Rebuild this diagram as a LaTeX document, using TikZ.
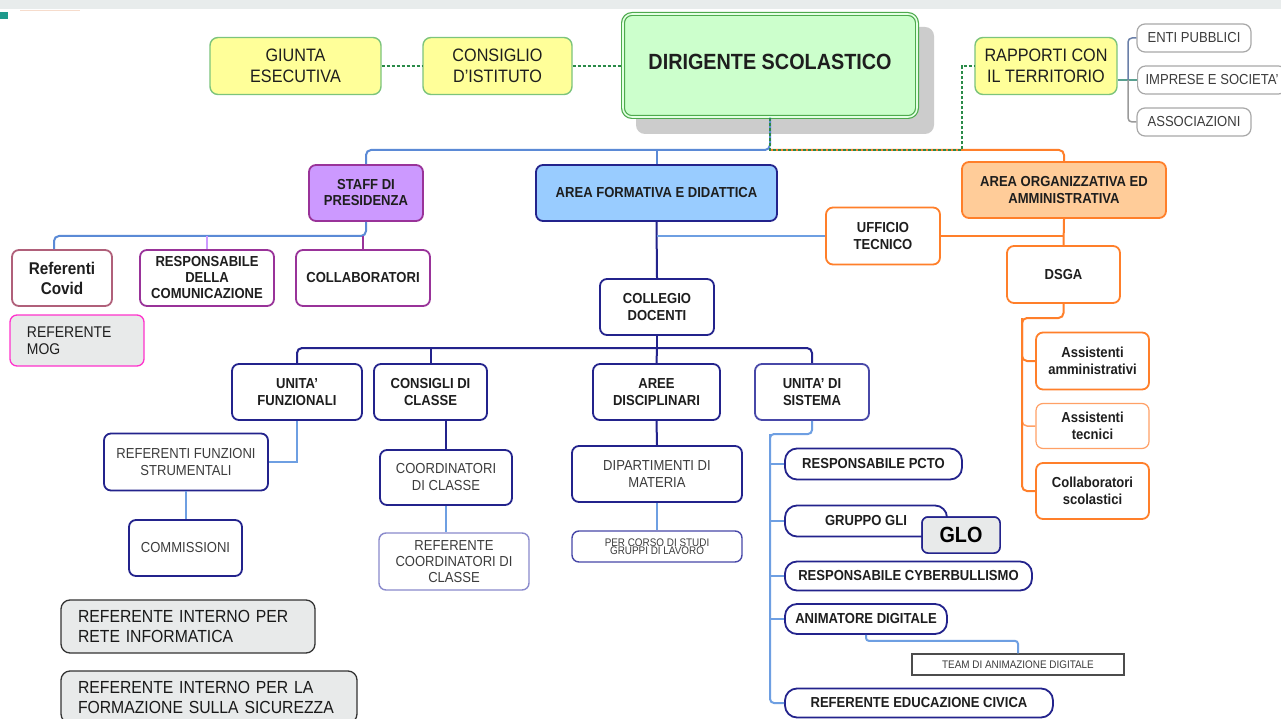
\documentclass[tikz,border=0pt]{standalone}
\usepackage{fontspec}
\setmainfont{Liberation Sans}[FakeStretch=0.9]
\definecolor{topgray}{HTML}{E8ECEC}
\definecolor{teal1}{HTML}{1E9A8C}
\definecolor{peach}{HTML}{F6DCCC}
\definecolor{yfill}{HTML}{FFFF99}
\definecolor{ydraw}{HTML}{7CC47C}
\definecolor{dfill}{HTML}{CCFFCC}
\definecolor{dfill2}{HTML}{E4FFE4}
\definecolor{ddraw}{HTML}{4DAA4D}
\definecolor{shadowc}{HTML}{CCCCCC}
\definecolor{dgreen}{HTML}{2A8A48}
\definecolor{mynavy}{HTML}{23238C}
\definecolor{navyl}{HTML}{4848A8}
\definecolor{navyp}{HTML}{8A8ACC}
\definecolor{cb}{HTML}{5B8AD6}
\definecolor{cl}{HTML}{6E9FE2}
\definecolor{orng}{HTML}{FF7F2A}
\definecolor{orngl}{HTML}{FFA066}
\definecolor{ofill}{HTML}{FFCC99}
\definecolor{bfill}{HTML}{99CCFF}
\definecolor{pfill}{HTML}{CC99FF}
\definecolor{pdraw}{HTML}{993399}
\definecolor{plight}{HTML}{CC99FF}
\definecolor{covidc}{HTML}{B0607A}
\definecolor{magc}{HTML}{FF33CC}
\definecolor{lgray}{HTML}{E8EAEA}
\definecolor{gborder}{HTML}{A8A8A8}
\definecolor{txtb}{HTML}{1E1E1E}
\definecolor{txtr}{HTML}{3C3C3C}
\definecolor{rgblue}{HTML}{6A7FA8}
\definecolor{rgteal}{HTML}{5AA090}
\definecolor{rggray}{HTML}{9A9A9A}
\begin{document}
\begin{tikzpicture}[x=1pt,y=-1pt,
  sz/.style 2 args={minimum width=#1pt, minimum height=#2pt},
  box/.style={draw, rounded corners=7pt, line width=1.8pt, inner sep=0pt, align=center, fill=white, text=txtb},
  bf/.style={font=\bfseries\fontsize{14.5}{17}\selectfont, text=txtb},
  rf/.style={font=\fontsize{14.5}{17}\selectfont, text=txtr},
  navyb/.style={box, draw=mynavy, bf},
  navyr/.style={box, draw=mynavy, rf},
  pill/.style={box, draw=mynavy, bf, rounded corners=12pt},
  orb/.style={box, draw=orng, bf},
  yel/.style={box, fill=yfill, draw=ydraw, line width=1.4pt, rounded corners=8pt, font=\fontsize{18}{21}\selectfont, text=txtb},
  grayb/.style={box, draw=gborder, line width=1.2pt, rounded corners=8pt, font=\fontsize{14.5}{17}\selectfont, text=txtr},
  cblue/.style={draw=cb, line width=2pt, rounded corners=5pt},
  clight/.style={draw=cl, line width=2pt},
  cnavy/.style={draw=mynavy, line width=2pt, rounded corners=5pt},
  corange/.style={draw=orng, line width=2pt, rounded corners=5pt},
  cdash/.style={draw=dgreen, line width=2pt, dash pattern=on 3.5pt off 1.5pt}
]
\useasboundingbox (0,0) rectangle (1281,719);
\clip (0,0) rectangle (1281,719);
\fill[white] (0,0) rectangle (1281,719);
\fill[topgray] (0,0) rectangle (1281,9);
\fill[teal1] (0,12) rectangle (8,19);
\draw[peach, line width=1pt] (20,11) -- (80,11);

% shadow of the head box
\fill[shadowc, rounded corners=9pt] (636,27) rectangle (934,134);

% top row
\node[yel, sz={171}{57}] (giunta) at (295.5,66) {GIUNTA\\ESECUTIVA};
\node[yel, sz={149}{57}] (consiglio) at (497.5,66) {CONSIGLIO\\D’ISTITUTO};
\node[draw=ddraw, double=dfill2, double distance=1.6pt, line width=1.2pt, rounded corners=9pt,
      fill=dfill, sz={294}{103}, text depth=8pt, align=center,
      font=\bfseries\fontsize{22}{26}\selectfont, text=txtb] (dir) at (770,65.5) {DIRIGENTE SCOLASTICO};
\node[yel, sz={142}{57}] (rap) at (1046,66) {RAPPORTI CON\\IL TERRITORIO};
\node[grayb, sz={114}{28}] (enti) at (1194,38) {ENTI PUBBLICI};
\node[grayb, minimum height=28pt, inner xsep=8pt, anchor=west] (imp) at (1137,80) {IMPRESE E SOCIETA’};
\node[grayb, sz={114}{28}] (assoc) at (1194,122) {ASSOCIAZIONI};

% second row
\node[box, fill=pfill, draw=pdraw, bf, sz={114}{56}, font=\bfseries\fontsize{14.5}{16}\selectfont] (staff) at (366,193) {STAFF DI\\PRESIDENZA};
\node[box, fill=bfill, draw=mynavy, bf, sz={241}{56}] (areaf) at (656.5,193) {AREA FORMATIVA E DIDATTICA};
\node[box, fill=ofill, draw=orng, bf, sz={204}{56}] (areao) at (1064,190) {AREA ORGANIZZATIVA ED\\AMMINISTRATIVA};

% staff children
\node[box, draw=covidc, sz={100}{56}, font=\bfseries\fontsize{17}{20}\selectfont] (covid) at (62,278) {Referenti\\Covid};
\node[box, draw=pdraw, sz={134}{56}, font=\bfseries\fontsize{14.5}{16}\selectfont] (resp) at (207,278) {RESPONSABILE\\DELLA\\COMUNICAZIONE};
\node[box, draw=pdraw, bf, sz={134}{56}] (collab) at (363,278) {COLLABORATORI};
\node[box, fill=lgray, draw=magc, line width=1.3pt, sz={134}{51}, font=\fontsize{15.5}{17}\selectfont,
      align=left, text width=100pt, text=txtb] (mog) at (77,340.5) {REFERENTE\\MOG};

% administrative side
\node[orb, sz={114}{57}] (uff) at (883,236) {UFFICIO\\TECNICO};
\node[orb, sz={113}{57}] (dsga) at (1063.5,274.5) {DSGA};
\node[orb, sz={113}{57}] (assamm) at (1092.5,361) {Assistenti\\amministrativi};
\node[orb, draw=orngl, line width=1.2pt, sz={113}{45}] (asstec) at (1092.5,426) {Assistenti\\tecnici};
\node[orb, sz={113}{56}] (collscol) at (1092.5,491) {Collaboratori\\scolastici};

% didactic side
\node[navyb, sz={114}{56}] (collegio) at (657,307) {COLLEGIO\\DOCENTI};
\node[navyb, sz={130}{56}] (uf) at (297,392) {UNITA’\\FUNZIONALI};
\node[navyb, sz={113}{56}] (cons) at (430.5,392) {CONSIGLI DI\\CLASSE};
\node[navyb, sz={127}{56}] (aree) at (656.5,392) {AREE\\DISCIPLINARI};
\node[navyb, draw=navyl, sz={114}{56}] (uds) at (812,392) {UNITA’ DI\\SISTEMA};
\node[navyr, sz={164}{57}] (rfs) at (186,462) {REFERENTI FUNZIONI\\STRUMENTALI};
\node[navyr, sz={113}{56}] (comm) at (185.5,548) {COMMISSIONI};
\node[navyr, sz={132}{55}] (coord) at (446,477.5) {COORDINATORI\\DI CLASSE};
\node[navyr, draw=navyp, line width=1.4pt, sz={150}{57}, font=\fontsize{14.5}{16}\selectfont] (refcoord) at (454,561.5) {REFERENTE\\COORDINATORI DI\\CLASSE};
\node[navyr, sz={170}{56}] (dip) at (657,474) {DIPARTIMENTI DI\\MATERIA};
\node[navyr, draw=navyl, line width=1.4pt, sz={170}{31}, font=\fontsize{11}{8}\selectfont] (percorso) at (657,546.5) {PER CORSO DI STUDI\\GRUPPI DI LAVORO};
\node[pill, sz={177}{31}] (pcto) at (873.5,464) {RESPONSABILE PCTO};
\node[pill, sz={162}{31}] (gli) at (866,521) {GRUPPO GLI};
\node[box, fill=lgray, draw=mynavy, line width=1.5pt, rounded corners=6pt, sz={78}{36},
      font=\bfseries\fontsize{22}{24}\selectfont, text=black] (glo) at (961,535) {GLO};
\node[pill, sz={247}{29}] (cyber) at (908.5,576) {RESPONSABILE CYBERBULLISMO};
\node[pill, sz={162}{30}] (anim) at (866,619) {ANIMATORE DIGITALE};
\node[draw=black!70, line width=1.2pt, inner sep=0pt, fill=white, sz={212}{21},
      font=\fontsize{11}{12}\selectfont, text=txtr] (team) at (1018,664.5) {TEAM DI ANIMAZIONE DIGITALE};
\node[pill, sz={268}{29}] (edciv) at (919,703) {REFERENTE EDUCAZIONE CIVICA};

% bottom-left references
\node[box, fill=lgray, draw=black!80, line width=1.3pt, rounded corners=9pt, sz={254}{53},
      font=\fontsize{17.5}{20}\selectfont, align=left, text width=220pt, text=black!90] (rete) at (188,626.5) {REFERENTE INTERNO PER\\RETE INFORMATICA};
\node[box, fill=lgray, draw=black!80, line width=1.3pt, rounded corners=9pt, sz={296}{52},
      font=\fontsize{17.5}{20}\selectfont, align=left, text width=262pt, text=black!90] (sicur) at (209,697) {REFERENTE INTERNO PER LA\\FORMAZIONE SULLA SICUREZZA};

% ---------- connectors ----------
\coordinate (j) at (770,150);
\coordinate (dk) at (962,150);
\draw[cdash] (giunta.east) -- (consiglio.west);
\draw[cdash] (consiglio.east) -- (dir.west |- consiglio.east);
\draw[cblue] (dir.south) |- (staff.north |- j) -- (staff.north);
\draw[cblue] (areaf.north |- j) -- (areaf.north);
\draw[corange] (j) -| (areao.north);
\draw[cdash] (dir.south) -- (j) -- (dk) |- (rap.west);

% rapporti
\coordinate (rt) at (1128,80);
\draw[rgteal, line width=1.8pt] (rap.east |- imp.west) -- (imp.west);
\draw[rgblue, line width=1.5pt, rounded corners=4pt] (rt) |- (enti.west);
\draw[rggray, line width=1.5pt, rounded corners=4pt] (rt) |- (assoc.west);

% staff
\coordinate (s) at (366,236);
\coordinate (cv) at ([xshift=-8pt]covid.north);
\draw[cblue] (staff.south) |- (cv |- s) -- (cv);
\draw[plight, line width=2pt] (resp.north |- s) -- (resp.north);
\draw[pdraw, line width=2pt] (collab.north |- s) -- (collab.north);

% formative area
\draw[cnavy] (areaf.south) -- (collegio.north);
\draw[clight] (areaf.south |- uff.west) -- (uff.west);
\draw[corange] (uff.east) -- (uff.east -| areao.south);
\draw[corange] (areao.south) -- (dsga.north);

% DSGA
\coordinate (dt) at (1022,318);
\draw[corange] (dsga.south) |- (dt) |- (assamm.west);
\draw[draw=orngl, line width=1.5pt, rounded corners=5pt] (dt) |- (asstec.west);
\draw[corange] (dt) |- (collscol.west);

% collegio
\coordinate (c) at (657,348);
\draw[cnavy] (collegio.south) -- (c);
\draw[cnavy] (uf.north) |- (c) -| (uds.north);
\draw[cnavy] (cons.north |- c) -- (cons.north);
\draw[cnavy] (c) -- (aree.north);

\draw[clight] (uf.south) |- (rfs.east);
\draw[clight] (rfs.south) -- (rfs.south |- comm.north);
\draw[cnavy] (coord.north |- cons.south) -- (coord.north);
\draw[clight] (coord.south) -- (coord.south |- refcoord.north);
\draw[cnavy] (aree.south) -- (dip.north);
\draw[clight] (dip.south) -- (percorso.north);

% unita di sistema
\coordinate (u) at (770,434);
\draw[clight, rounded corners=4pt] (uds.south) |- (u) |- (edciv.west);
\draw[clight] (u) |- (pcto.west);
\draw[clight] (u) |- (gli.west);
\draw[clight] (u) |- (cyber.west);
\draw[clight] (u) |- (anim.west);
\draw[clight, rounded corners=3pt] (anim.south) -- ++(0,6) -| (team.north);

% redraw GLO on top of GRUPPO GLI
\node[box, fill=lgray, draw=mynavy, line width=1.5pt, rounded corners=6pt, sz={78}{36},
      font=\bfseries\fontsize{22}{24}\selectfont, text=black] (glo2) at (glo) {GLO};
\end{tikzpicture}
\end{document}
